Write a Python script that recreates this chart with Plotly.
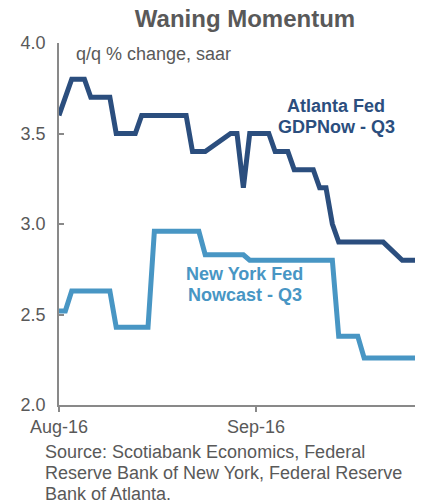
import plotly.graph_objects as go

# Atlanta Fed GDPNow - Q3 (q/q % change, saar)
atl_dates = ["2016-08-01", "2016-08-03", "2016-08-05", "2016-08-06", "2016-08-09",
             "2016-08-10", "2016-08-13", "2016-08-14", "2016-08-21", "2016-08-22",
             "2016-08-24", "2016-08-28", "2016-08-29", "2016-08-30", "2016-08-31",
             "2016-09-03", "2016-09-04", "2016-09-06", "2016-09-07", "2016-09-10",
             "2016-09-11", "2016-09-12", "2016-09-13", "2016-09-14", "2016-09-21",
             "2016-09-24", "2016-09-26"]
atl_values = [3.6, 3.8, 3.8, 3.7, 3.7,
              3.5, 3.5, 3.6, 3.6, 3.4,
              3.4, 3.5, 3.5, 3.2, 3.5,
              3.5, 3.4, 3.4, 3.3, 3.3,
              3.2, 3.2, 3.0, 2.9, 2.9,
              2.8, 2.8]

# New York Fed Nowcast - Q3
ny_dates = ["2016-08-01", "2016-08-02", "2016-08-03", "2016-08-09", "2016-08-10",
            "2016-08-15", "2016-08-16", "2016-08-23", "2016-08-24", "2016-08-30",
            "2016-08-31", "2016-09-13", "2016-09-14", "2016-09-17", "2016-09-18",
            "2016-09-26"]
ny_values = [2.52, 2.52, 2.63, 2.63, 2.43,
             2.43, 2.96, 2.96, 2.83, 2.83,
             2.80, 2.80, 2.38, 2.38, 2.26,
             2.26]

x_tickvals = ["2016-08-01", "2016-09-01"]
x_ticktext = ["Aug-16", "Sep-16"]
y_tickvals = [2.0, 2.5, 3.0, 3.5, 4.0]
y_ticktext = ["2.0", "2.5", "3.0", "3.5", "4.0"]

DARK = "#2B4E7E"
LIGHT = "#4896C4"
GRAY_TXT = "#595959"
AXIS = "#898989"
FONT = "Liberation Sans, Arial, sans-serif"

W, H = 429, 504
L, R, T, B = 59, 14, 43, 99
pw, ph = W - L - R, H - T - B

def px(x):
    return (x - L) / pw

def py(y):
    return (H - B - y) / ph

fig = go.Figure()
fig.add_trace(go.Scatter(x=atl_dates, y=atl_values, mode="lines",
                         line=dict(color=DARK, width=5), hoverinfo="skip",
                         showlegend=False))
fig.add_trace(go.Scatter(x=ny_dates, y=ny_values, mode="lines",
                         line=dict(color=LIGHT, width=5), hoverinfo="skip",
                         showlegend=False))

fig.update_layout(
    width=W, height=H,
    margin=dict(l=L, r=R, t=T, b=B),
    paper_bgcolor="white", plot_bgcolor="white",
    font=dict(family=FONT, size=18, color=GRAY_TXT),
    title=dict(text="<b>Waning Momentum</b>", x=245 / W, xref="container", xanchor="center",
               y=1 - 19 / H, yref="container", yanchor="middle",
               font=dict(family=FONT, size=24, color=GRAY_TXT)),
    xaxis=dict(type="date", range=["2016-08-01", "2016-09-26"],
               tickvals=x_tickvals, ticktext=x_ticktext,
               showgrid=False, zeroline=False,
               showline=True, linecolor=AXIS, linewidth=1.5,
               ticks="outside", ticklen=5, tickcolor=AXIS, tickwidth=1.5,
               tickfont=dict(family=FONT, size=18, color=GRAY_TXT)),
    yaxis=dict(range=[2.0, 4.0], tickvals=y_tickvals, ticktext=y_ticktext,
               showgrid=False, zeroline=False,
               showline=True, linecolor=AXIS, linewidth=1.5,
               ticks="inside", ticklen=5, tickcolor=AXIS, tickwidth=1.5,
               ticklabelstandoff=8,
               tickfont=dict(family=FONT, size=18, color=GRAY_TXT)),
)

ann = [
    dict(text="q/q % change, saar", x=px(74), y=py(54), xanchor="left", yanchor="middle",
         font=dict(family=FONT, size=18, color=GRAY_TXT)),
    dict(text="<b>Atlanta Fed</b>", x=px(336), y=py(106), xanchor="center", yanchor="middle",
         font=dict(family=FONT, size=18, color=DARK)),
    dict(text="<b>GDPNow - Q3</b>", x=px(336), y=py(127), xanchor="center", yanchor="middle",
         font=dict(family=FONT, size=18, color=DARK)),
    dict(text="<b>New York Fed</b>", x=px(244.5), y=py(274), xanchor="center", yanchor="middle",
         font=dict(family=FONT, size=18, color=LIGHT)),
    dict(text="<b>Nowcast - Q3</b>", x=px(244.5), y=py(295), xanchor="center", yanchor="middle",
         font=dict(family=FONT, size=18, color=LIGHT)),
    dict(text="Source: Scotiabank Economics, Federal", x=px(43), y=py(452), xanchor="left", yanchor="middle",
         font=dict(family=FONT, size=18, color=GRAY_TXT)),
    dict(text="Reserve Bank of New York, Federal Reserve", x=px(43), y=py(473), xanchor="left", yanchor="middle",
         font=dict(family=FONT, size=18, color=GRAY_TXT)),
    dict(text="Bank of Atlanta.", x=px(43), y=py(494), xanchor="left", yanchor="middle",
         font=dict(family=FONT, size=18, color=GRAY_TXT)),
]
for a in ann:
    fig.add_annotation(xref="paper", yref="paper", showarrow=False, **a)

fig.write_html("out.html", config={"displayModeBar": False},
               post_script="document.body.style.margin='0';document.body.style.overflow='hidden';")
